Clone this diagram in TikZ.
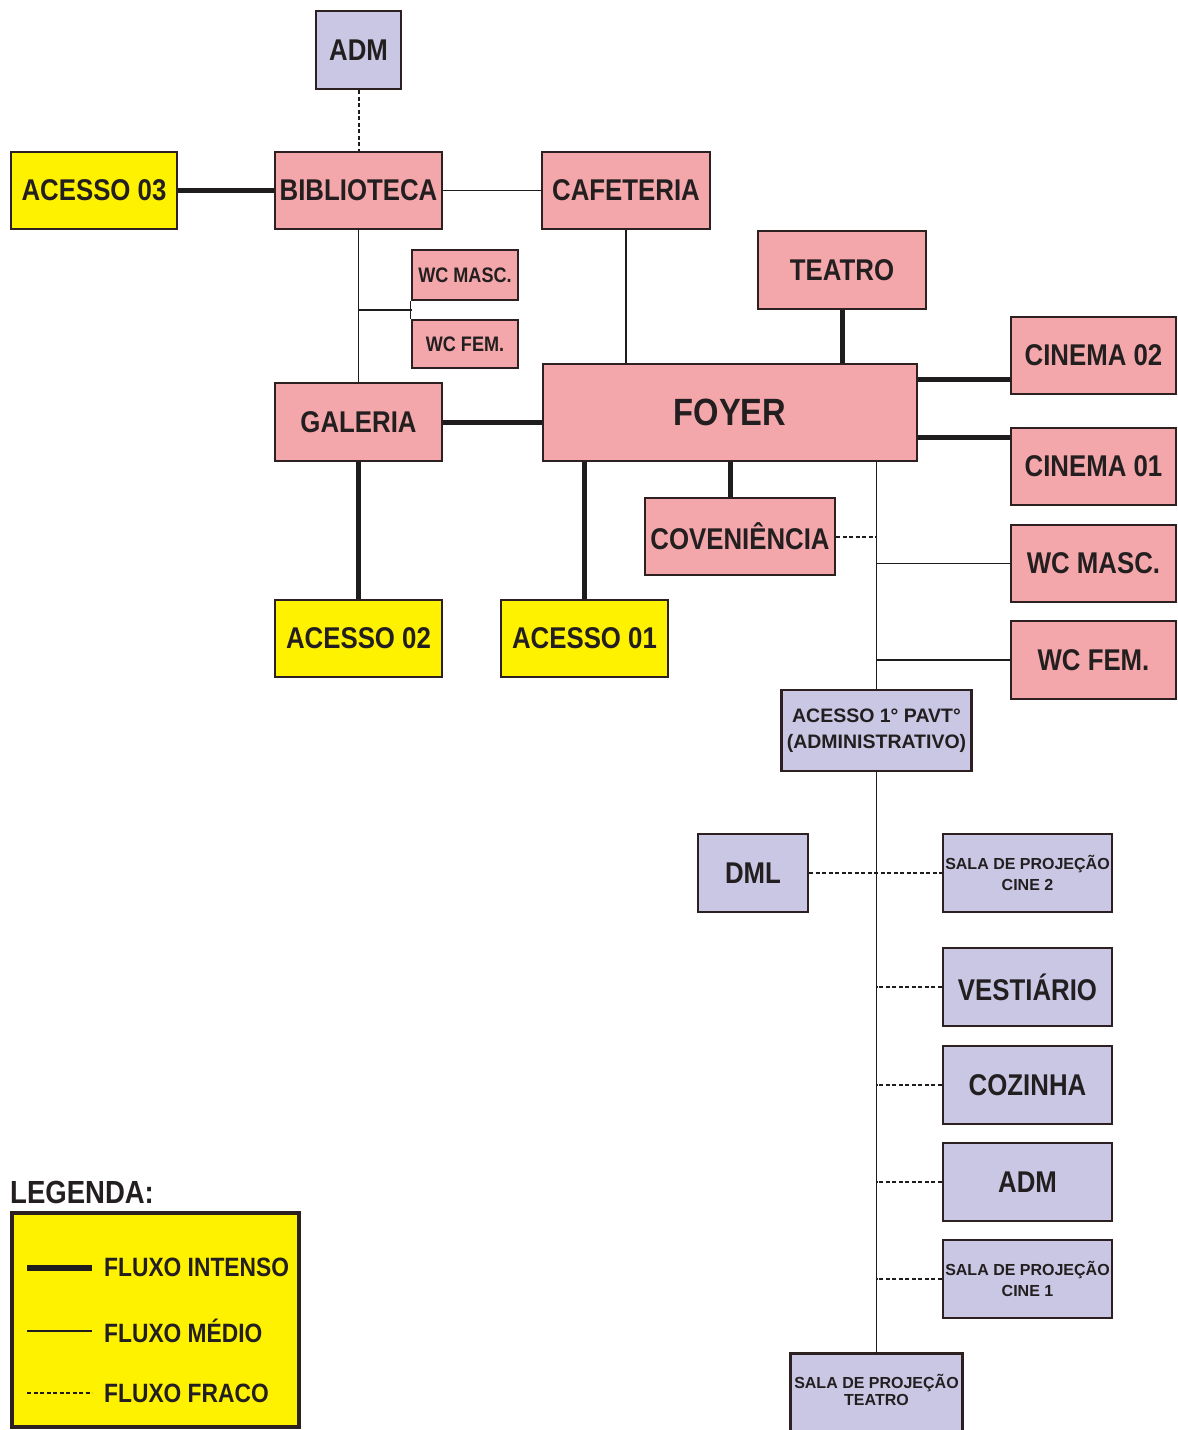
\documentclass[tikz,border=0pt]{standalone}
\usepackage{fontspec}
\setmainfont{Liberation Sans}
\newfontfamily\nar[FakeStretch=0.86]{Liberation Sans}
\definecolor{pinkc}{RGB}{244,167,170}
\definecolor{lavc}{RGB}{201,199,227}
\definecolor{yelc}{RGB}{255,242,0}
\definecolor{bordc}{RGB}{45,32,32}
\definecolor{txtc}{RGB}{35,31,32}
\definecolor{linec}{RGB}{30,28,28}
\begin{document}
\begin{tikzpicture}[x=1pt,y=-1pt,
  box/.style={draw=bordc, line width=2.8pt, inner sep=0pt, align=center, text=txtc},
  pinkbox/.style={box, fill=pinkc},
  lavbox/.style={box, fill=lavc},
  yelbox/.style={box, fill=yelc},
  sz/.style 2 args={minimum width=#1, minimum height=#2},
  nt/.style={font=\nar\bfseries\fontsize{30}{32}\selectfont},
  ntsmall/.style={font=\nar\bfseries\fontsize{21}{23}\selectfont},
  ntbig/.style={font=\nar\bfseries\fontsize{38}{40}\selectfont},
  wtmid/.style={font=\bfseries\fontsize{19.5}{26}\selectfont},
  wtsmall/.style={font=\bfseries\fontsize{16}{21}\selectfont},
  lgt/.style={font=\nar\bfseries\fontsize{26.5}{28}\selectfont, text=txtc, inner sep=0pt, anchor=west},
  thk/.style={line width=5pt, draw=linec},
  thn/.style={line width=1.6pt, draw=linec},
  dsh/.style={line width=2pt, draw=linec, dash pattern=on 4pt off 2.5pt},
]
\useasboundingbox (0,0) rectangle (1178,1430);
\fill[white] (0,0) rectangle (1178,1430);

% top group
\node[lavbox, nt, sz={85pt}{78pt}] (admT) at (358.5,50) {ADM};
\node[yelbox, nt, sz={166pt}{77pt}] (ac03) at (94,190.5) {ACESSO 03};
\node[pinkbox, nt, sz={167pt}{77pt}] (bib) at (358.5,190.5) {BIBLIOTECA};
\node[pinkbox, nt, sz={168pt}{77pt}] (caf) at (626,190.5) {CAFETERIA};
\node[pinkbox, ntsmall, sz={106pt}{50pt}] (wcm1) at (465,275) {WC MASC.};
\node[pinkbox, ntsmall, sz={106pt}{48pt}] (wcf1) at (465,344) {WC FEM.};
\node[pinkbox, nt, sz={168pt}{78pt}] (teatro) at (842,270) {TEATRO};
\node[pinkbox, ntbig, sz={374pt}{97pt}] (foyer) at (730,412.5) {FOYER};
\node[pinkbox, nt, sz={165pt}{77pt}] (cin2) at (1093.5,355.5) {CINEMA 02};
\node[pinkbox, nt, sz={167pt}{78pt}] (gal) at (358.5,422) {GALERIA};
\node[pinkbox, nt, sz={165pt}{77pt}] (cin1) at (1093.5,466.5) {CINEMA 01};
\node[pinkbox, nt, sz={190pt}{77pt}] (conv) at (740,536.5) {COVENIÊNCIA};
\node[pinkbox, nt, sz={165pt}{77pt}] (wcm2) at (1093.5,563.5) {WC MASC.};
\node[pinkbox, nt, sz={165pt}{78pt}] (wcf2) at (1093.5,660) {WC FEM.};
\node[yelbox, nt, sz={167pt}{77pt}] (ac02) at (358.5,638.5) {ACESSO 02};
\node[yelbox, nt, sz={167pt}{77pt}] (ac01) at (584.5,638.5) {ACESSO 01};

% lower group
\node[lavbox, wtmid, sz={190pt}{81pt}] (pavt) at (876.5,730.5) {ACESSO 1° PAVT°\\(ADMINISTRATIVO)};
\node[lavbox, nt, sz={110pt}{78pt}] (dml) at (753,873) {DML};
\node[lavbox, wtsmall, sz={169pt}{78pt}] (sc2) at (1027.5,873) {SALA DE PROJEÇÃO\\CINE 2};
\node[lavbox, nt, sz={169pt}{78pt}] (vest) at (1027.5,987) {VESTIÁRIO};
\node[lavbox, nt, sz={169pt}{78pt}] (coz) at (1027.5,1085) {COZINHA};
\node[lavbox, nt, sz={169pt}{78pt}] (admB) at (1027.5,1182) {ADM};
\node[lavbox, wtsmall, sz={169pt}{78pt}] (sc1) at (1027.5,1279) {SALA DE PROJEÇÃO\\CINE 1};
\node[lavbox, draw=none, wtsmall, sz={169pt}{75pt}] (sct) at (876.5,1392.5) {\raisebox{-6pt}{\begin{tabular}{@{}c@{}}SALA DE PROJEÇÃO\\[-4pt]TEATRO\end{tabular}}};
\draw[draw=bordc, line width=2.8pt] (sct.south west) -- (sct.north west) -- (sct.north east) -- (sct.south east);

% connectors: top
\draw[dsh] (admT.south) -- (bib.north);
\draw[thk] (ac03.east) -- (bib.west);
\draw[thn] (bib.east) -- (caf.west);
\draw[thn] (bib.south) -- (gal.north);
\coordinate (wcj) at (412,310);
\draw[thn] (bib.south |- wcj) -- (wcj);
\draw[thn] (wcm1.south west) -- (wcf1.north west);
\draw[thn] (caf.south) -- (caf.south |- foyer.north);
\draw[thk] (teatro.south) -- (teatro.south |- foyer.north);
\coordinate (h1) at (0,379);
\coordinate (h2) at (0,437);
\draw[thk] (foyer.east |- h1) -- (cin2.west |- h1);
\draw[thk] (foyer.east |- h2) -- (cin1.west |- h2);
\draw[thk] (gal.east) -- (foyer.west |- gal.east);
\draw[thk] (gal.south) -- (ac02.north);
\draw[thk] (ac01.north) -- (ac01.north |- foyer.south);
\draw[thk] (foyer.south) -- (foyer.south |- conv.north);
\draw[thn] (foyer.south -| pavt.north) -- (pavt.north);
\draw[dsh] (conv.east) -- (conv.east -| pavt.north);
\draw[thn] (wcm2.west) -- (wcm2.west -| pavt.north);
\draw[thn] (wcf2.west) -- (wcf2.west -| pavt.north);

% connectors: lower
\draw[thn] (pavt.south) -- (sct.north);
\draw[dsh] (dml.east) -- (sc2.west);
\draw[dsh] (vest.west) -- (vest.west -| pavt.south);
\draw[dsh] (coz.west) -- (coz.west -| pavt.south);
\draw[dsh] (admB.west) -- (admB.west -| pavt.south);
\draw[dsh] (sc1.west) -- (sc1.west -| pavt.south);

% legend
\node[font=\nar\bfseries\fontsize{32}{34}\selectfont, text=txtc, inner sep=0pt, anchor=west] (legt) at (10,1192) {LEGENDA:};
\node[yelbox, line width=4.5pt, sz={287pt}{214pt}] (leg) at (155.5,1320) {};
\coordinate (la1) at (27,1268); \coordinate (lb1) at (92,1268);
\coordinate (la2) at (27,1331); \coordinate (lb2) at (92,1331);
\coordinate (la3) at (27,1393); \coordinate (lb3) at (92,1393);
\draw[thk, line width=6pt] (la1) -- (lb1);
\draw[thn] (la2) -- (lb2);
\draw[dsh] (la3) -- (lb3);
\node[lgt] (l1) at (104,1267) {FLUXO INTENSO};
\node[lgt] (l2) at (104,1331) {FLUXO MÉDIO};
\node[lgt] (l3) at (104,1393) {FLUXO FRACO};
\end{tikzpicture}
\end{document}
